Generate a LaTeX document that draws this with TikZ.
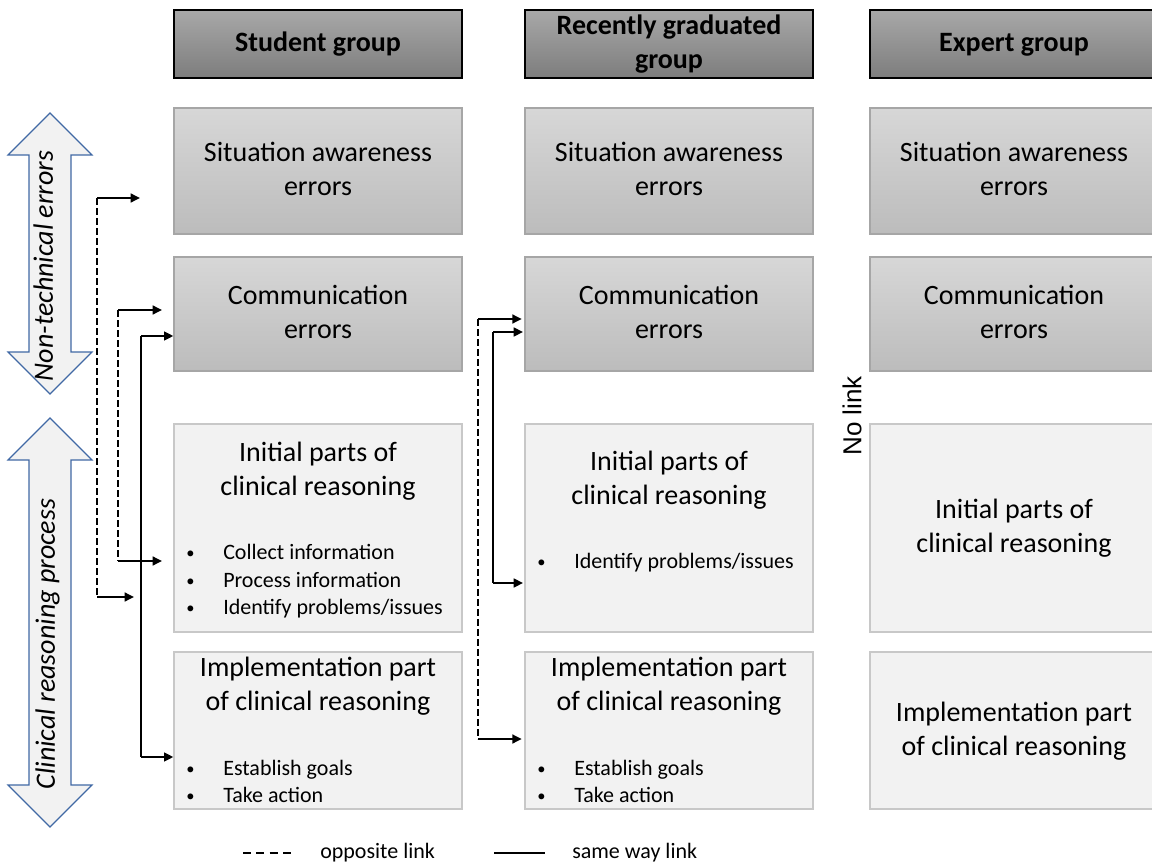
\documentclass[tikz,border=0pt]{standalone}
\usepackage{fontspec}
\setmainfont{Carlito}
\newfontfamily\arialfont{Liberation Sans}
\usetikzlibrary{arrows.meta}
\definecolor{hdtop}{RGB}{168,168,168}
\definecolor{hdbot}{RGB}{125,125,125}
\definecolor{ertop}{RGB}{215,215,215}
\definecolor{erbot}{RGB}{188,188,188}
\definecolor{erline}{RGB}{166,166,166}
\definecolor{crfill}{RGB}{242,242,242}
\definecolor{crline}{RGB}{200,200,200}
\definecolor{arrline}{RGB}{65,105,165}
\newcommand{\mybul}{\makebox[27.75pt][l]{\raisebox{0.5pt}{\scalebox{0.75}{\textbullet}}}}
\begin{document}
\begin{tikzpicture}[x=0.75pt,y=-0.75pt,
 hdbox/.style={draw=black, line width=1.1pt, top color=hdtop, bottom color=hdbot, minimum width=216pt, minimum height=51pt, inner sep=0},
 errbox/.style={draw=erline, line width=0.9pt, top color=ertop, bottom color=erbot, minimum width=216pt, inner sep=0},
 crbox/.style={draw=crline, line width=0.9pt, fill=crfill, minimum width=216pt, inner sep=0},
 title/.style={align=center, font=\fontsize{21}{25.5}\selectfont, inner sep=0},
 hdtext/.style={align=center, font=\fontsize{21}{25.5}\selectfont\bfseries, inner sep=0},
 bul/.style={anchor=west, font=\fontsize{16.5}{19.8}\selectfont, inner sep=0},
 sidetext/.style={rotate=90, font=\fontsize{21}{25.5}\selectfont\itshape, inner sep=0},
 blockarrow/.style={draw=arrline, line width=0.9pt, fill=crfill, line join=miter},
 dline/.style={line width=1pt, dash pattern=on 5pt off 2.5pt},
 sline/.style={line width=1pt},
 harrow/.style={line width=2.2pt, -{Triangle[length=7pt,width=6.5pt]}},
 legtext/.style={anchor=west, font=\fontsize{16.5}{19.8}\selectfont, inner sep=0}
]
\useasboundingbox (0,0) rectangle (1152,866);

% headers
\node[hdbox] (h1) at (318,44) {};
\node[hdbox] (h2) at (669,44) {};
\node[hdbox] (h3) at (1014,44) {};
\node[hdtext] (h1t) at (318,45) {Student group\strut};
\node[hdtext] (h2t) at (669,45) {\strut Recently graduated\\group\strut};
\node[hdtext] (h3t) at (1014,45) {Expert group\strut};

% row 1: situation awareness
\node[errbox, minimum height=94.5pt] (sa1) at (318,171) {};
\node[errbox, minimum height=94.5pt] (sa2) at (669,171) {};
\node[errbox, minimum height=94.5pt] (sa3) at (1014,171) {};
\node[title] (sa1t) at (318,172) {\strut Situation awareness\\errors\strut};
\node[title] (sa2t) at (669,172) {\strut Situation awareness\\errors\strut};
\node[title] (sa3t) at (1014,172) {\strut Situation awareness\\errors\strut};

% row 2: communication
\node[errbox, minimum height=85.5pt] (co1) at (318,314) {};
\node[errbox, minimum height=85.5pt] (co2) at (669,314) {};
\node[errbox, minimum height=85.5pt] (co3) at (1014,314) {};
\node[title] (co1t) at (318,314.5) {\strut Communication\\errors\strut};
\node[title] (co2t) at (669,314.5) {\strut Communication\\errors\strut};
\node[title] (co3t) at (1014,314.5) {\strut Communication\\errors\strut};

% row 3: initial parts
\node[crbox, minimum height=156pt] (in1) at (318,528) {};
\node[crbox, minimum height=156pt] (in2) at (669,528) {};
\node[crbox, minimum height=156pt] (in3) at (1014,528) {};
\node[title] (in1t) at (318,472) {\strut Initial parts of\\clinical reasoning\strut};
\node[title] (in2t) at (669,480.5) {\strut Initial parts of\\clinical reasoning\strut};
\node[title] (in3t) at (1014,529) {\strut Initial parts of\\clinical reasoning\strut};
\node[bul] (in1a) at (186,554) {\mybul Collect information\strut};
\node[bul] (in1b) at (186,582) {\mybul Process information\strut};
\node[bul] (in1c) at (186,609) {\mybul Identify problems/issues\strut};
\node[bul] (in2a) at (537,563) {\mybul Identify problems/issues\strut};

% row 4: implementation
\node[crbox, minimum height=117.75pt] (im1) at (318,730.5) {};
\node[crbox, minimum height=117.75pt] (im2) at (669,730.5) {};
\node[crbox, minimum height=117.75pt] (im3) at (1014,730.5) {};
\node[title] (im1t) at (318,686.5) {\strut Implementation part\\of clinical reasoning\strut};
\node[title] (im2t) at (669,686.5) {\strut Implementation part\\of clinical reasoning\strut};
\node[title] (im3t) at (1014,731.5) {\strut Implementation part\\of clinical reasoning\strut};
\node[bul] (im1a) at (186,770) {\mybul Establish goals\strut};
\node[bul] (im1b) at (186,797) {\mybul Take action\strut};
\node[bul] (im2a) at (537,770) {\mybul Establish goals\strut};
\node[bul] (im2b) at (537,797) {\mybul Take action\strut};

% side block arrows
\draw[blockarrow] (50,113) -- (92,155) -- (71,155) -- (71,352) -- (92,352) -- (50,394)
  -- (8,352) -- (29,352) -- (29,155) -- (8,155) -- cycle;
\draw[blockarrow] (50,418) -- (92,460) -- (71,460) -- (71,785) -- (92,785) -- (50,827)
  -- (8,785) -- (29,785) -- (29,460) -- (8,460) -- cycle;
\node[sidetext] (nte) at (46,266) {Non-technical errors\strut};
\node[sidetext] (crp) at (48,644) {Clinical reasoning process\strut};

% student group connectors
\coordinate (a1) at (97,198);  \coordinate (a1e) at (140,198);
\coordinate (a2) at (97,597);  \coordinate (a2e) at (134,597);
\draw[dline] (a1) -- (a2);
\draw[harrow] (a1) -- (a1e);
\draw[harrow] (a2) -- (a2e);

\coordinate (b1) at (118,310); \coordinate (b1e) at (162,310);
\coordinate (b2) at (118,561); \coordinate (b2e) at (162,561);
\draw[dline] (b1) -- (b2);
\draw[harrow] (b1) -- (b1e);
\draw[harrow] (b2) -- (b2e);

\coordinate (c1) at (141,336); \coordinate (c2) at (141,757);
\draw[sline] (c1) -- (c2);
\draw[harrow] (c1) -- (c1 -| co1.west);
\draw[harrow] (c2) -- (c2 -| im1.west);

% recently graduated connectors
\coordinate (m1) at (478,319); \coordinate (m2) at (478,739);
\draw[dline] (m1) -- (m2);
\draw[harrow, shorten >=2pt] (m1) -- (m1 -| co2.west);
\draw[harrow, shorten >=2pt] (m2) -- (m2 -| im2.west);

\coordinate (n1) at (493,332); \coordinate (n2) at (493,583);
\draw[sline] (n1) -- (n2);
\draw[harrow, shorten >=1pt] (n1) -- (n1 -| co2.west);
\draw[harrow, shorten >=1pt] (n2) -- (n2 -| in2.west);

% no link
\node[rotate=90, font=\arialfont\fontsize{19.5}{23}\selectfont, inner sep=0] (nolink) at (852,416) {No link};

% legend
\coordinate (l1a) at (243,853); \coordinate (l1b) at (292,853);
\draw[line width=1pt, dash pattern=on 6pt off 4pt] (l1a) -- (l1b);
\node[legtext] (lt1) at (320,853) {opposite link\strut};
\coordinate (l2a) at (494,853); \coordinate (l2b) at (545,853);
\draw[sline] (l2a) -- (l2b);
\node[legtext] (lt2) at (572,853) {same way link\strut};
\end{tikzpicture}
\end{document}
